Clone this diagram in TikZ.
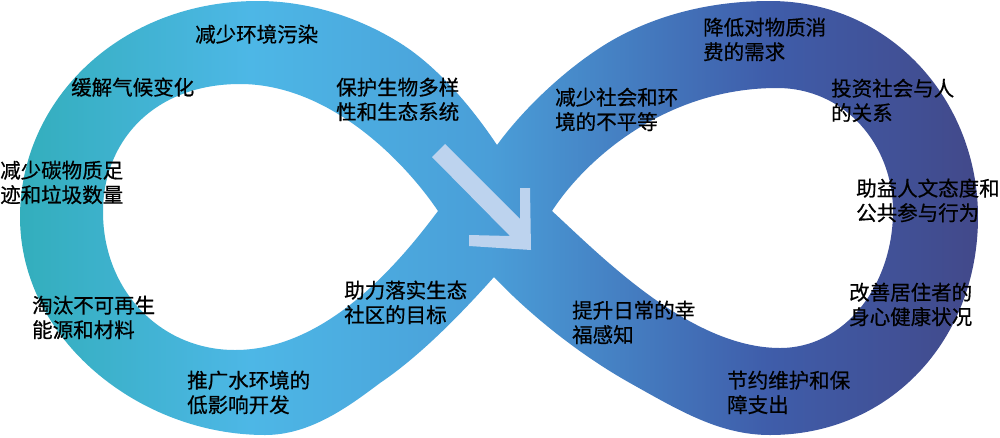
\documentclass[tikz,border=0pt]{standalone}
\usepackage{fontspec}
\newfontfamily\cjk[FakeBold=0.6]{Noto Sans CJK SC}
\definecolor{cA}{HTML}{33AEBC}
\definecolor{cB}{HTML}{4DB7E6}
\definecolor{cC}{HTML}{4A9ED8}
\definecolor{cD}{HTML}{3F5DAA}
\definecolor{cE}{HTML}{42498A}
\definecolor{arrowc}{HTML}{BDD3EE}
\pgfdeclarehorizontalshading{infband}{100bp}{color(0bp)=(cA); color(25bp)=(cA); color(37bp)=(cB); color(49.5bp)=(cC); color(64bp)=(cD); color(75bp)=(cE); color(100bp)=(cE)}
\newcommand\twoline[2]{\vtop{\hbox{#1}\hbox{#2}}}
\tikzset{lbl/.style={anchor=base west, inner sep=0pt, text=black, font=\cjk\fontsize{20.5}{24.5}\selectfont}}
\begin{document}
\begin{tikzpicture}[x=1pt,y=-1pt]
\useasboundingbox (0,0) rectangle (1000,437);
\fill[white] (0,0) rectangle (1000,437);
% band
\shade[shading=infband, even odd rule]
  (497,145) .. controls (475,112) and (440,68) .. (400,43)
  .. controls (360,18) and (310,1) .. (258,1)
  .. controls (120,1) and (20,100) .. (20,217)
  .. controls (20,340) and (140,435) .. (265,435)
  .. controls (310,435) and (348,407) .. (380,383)
  .. controls (420,356) and (460,315) .. (494,277)
  .. controls (530,315) and (580,355) .. (630,383)
  .. controls (680,411) and (720,435) .. (770,435)
  .. controls (890,435) and (978,340) .. (978,217)
  .. controls (978,100) and (890,1) .. (770,1)
  .. controls (710,1) and (660,15) .. (620,36)
  .. controls (580,57) and (530,100) .. (497,145) -- cycle
  (438,211) .. controls (405,162) and (330,84) .. (240,84)
  .. controls (155,84) and (103,140) .. (103,212)
  .. controls (103,290) and (160,350) .. (235,350)
  .. controls (330,350) and (405,255) .. (438,211) -- cycle
  (552,211) .. controls (585,160) and (665,88) .. (777,88)
  .. controls (845,88) and (893,145) .. (893,211)
  .. controls (893,285) and (845,348) .. (780,348)
  .. controls (690,348) and (600,255) .. (552,211) -- cycle;
% arrow
\fill[arrowc] (432,157) -- (445,144) -- (520,219) -- (520,188) -- (530,188)
  -- (531,250) -- (469,246) -- (469,235) -- (510,236) -- cycle;
% labels
\node[lbl] (t1) at (195,42) {减少环境污染};
\node[lbl] (t2) at (71,95) {缓解气候变化};
\node[lbl] (t3) at (336,95) {\twoline{保护生物多样}{性和生态系统}};
\node[lbl] (t4) at (0,178) {\twoline{减少碳物质足}{迹和垃圾数量}};
\node[lbl] (t5) at (32,313) {\twoline{淘汰不可再生}{能源和材料}};
\node[lbl] (t6) at (187,388) {\twoline{推广水环境的}{低影响开发}};
\node[lbl] (t7) at (344,298) {\twoline{助力落实生态}{社区的目标}};
\node[lbl] (t8) at (555,105) {\twoline{减少社会和环}{境的不平等}};
\node[lbl] (t9) at (703,35) {\twoline{降低对物质消}{费的需求}};
\node[lbl] (t10) at (831,96) {\twoline{投资社会与人}{的关系}};
\node[lbl] (t11) at (856,196) {\twoline{助益人文态度和}{公共参与行为}};
\node[lbl] (t12) at (849,300) {\twoline{改善居住者的}{身心健康状况}};
\node[lbl] (t13) at (572,318) {\twoline{提升日常的幸}{福感知}};
\node[lbl] (t14) at (727,388) {\twoline{节约维护和保}{障支出}};
\end{tikzpicture}
\end{document}
